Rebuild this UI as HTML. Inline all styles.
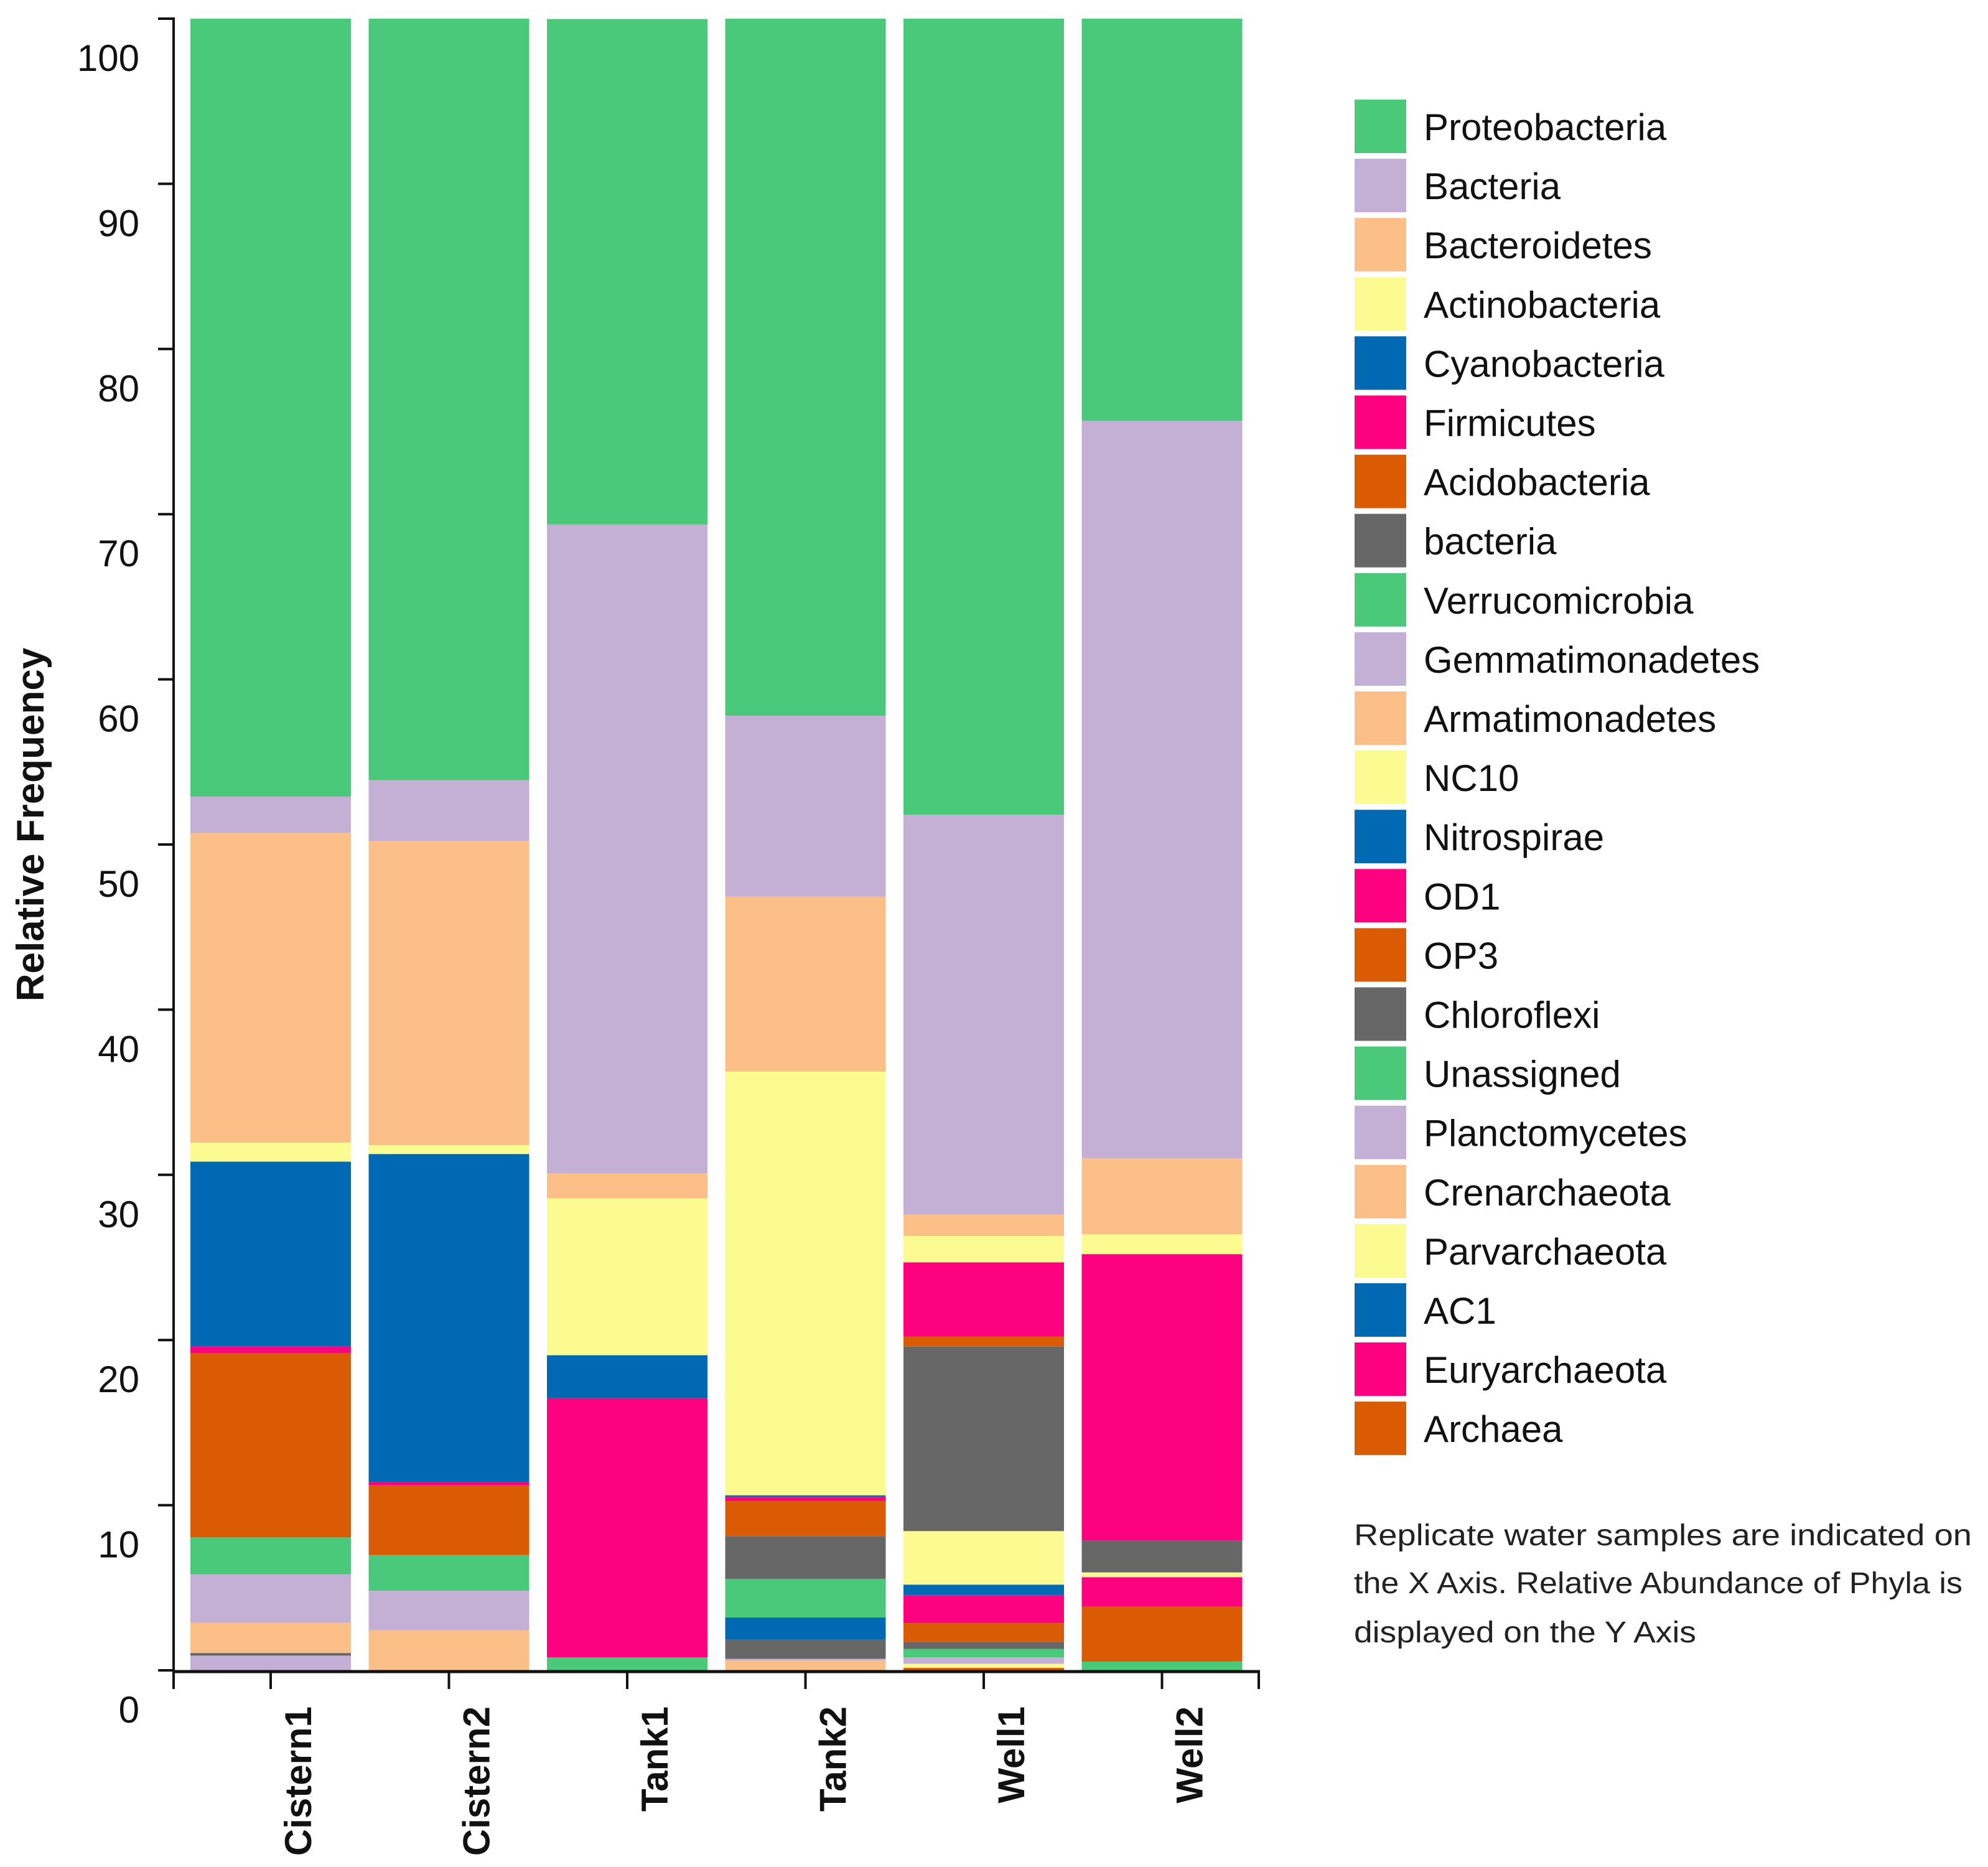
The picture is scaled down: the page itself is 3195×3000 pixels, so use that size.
<!DOCTYPE html>
<html>
<head>
<meta charset="utf-8">
<style>
  html,body{margin:0;padding:0;background:#fff;}
  svg{display:block;}
  text{font-family:"Liberation Sans",Arial,sans-serif;}
</style>
</head>
<body>
<svg id="chart" width="3195" height="3000" viewBox="0 0 3195 3000" xmlns="http://www.w3.org/2000/svg">
  <g id="bars"></g>
  <g id="axes"></g>
  <g id="legend"></g>
  <text transform="translate(70,1325) rotate(-90)" text-anchor="middle" font-size="62" font-weight="bold" fill="#111">Relative Frequency</text>
  <g fill="#222" font-size="48">
    <text x="2176" y="2483" textLength="993" lengthAdjust="spacingAndGlyphs">Replicate water samples are indicated on</text>
    <text x="2176" y="2560" textLength="978" lengthAdjust="spacingAndGlyphs">the X Axis. Relative Abundance of Phyla is</text>
    <text x="2176" y="2639" textLength="550" lengthAdjust="spacingAndGlyphs">displayed on the Y Axis</text>
  </g>
</svg>
<script>
const samples = ["Cistern1","Cistern2","Tank1","Tank2","Well1","Well2"];
const seriesNames = ["Proteobacteria","Bacteria","Bacteroidetes","Actinobacteria","Cyanobacteria","Firmicutes","Acidobacteria","bacteria","Verrucomicrobia","Gemmatimonadetes","Armatimonadetes","NC10","Nitrospirae","OD1","OP3","Chloroflexi","Unassigned","Planctomycetes","Crenarchaeota","Parvarchaeota","AC1","Euryarchaeota","Archaea"];
const seriesColors = ["#4bc97b","#c4afd5","#fdbf88","#fbfb91","#0069b3","#fe0180","#da5b03","#676767","#4bc97b","#c4afd5","#fdbf88","#fbfb91","#0069b3","#fe0180","#da5b03","#676767","#4bc97b","#c4afd5","#fdbf88","#fbfb91","#0069b3","#fe0180","#da5b03"];
// values per series (legend order), one value per sample
const proteobacteria   = [47.1, 46.1, 30.6, 42.2, 48.2, 24.35];
const bacteriaUpper    = [2.2, 3.7, 39.3, 10.95, 24.2, 44.65];
const bacteroidetes    = [18.75, 18.4, 1.5, 10.6, 1.3, 4.6];
const actinobacteria   = [1.15, 0.54, 9.5, 25.65, 1.6, 1.2];
const cyanobacteria    = [11.2, 19.86, 2.6, 0.1, 0, 0];
const firmicutes       = [0.4, 0.2, 15.7, 0.25, 4.5, 17.35];
const acidobacteria    = [11.15, 4.22, 0, 2.12, 0.6, 0];
const bacteriaLower    = [0, 0, 0, 2.59, 11.17, 1.92];
const verrucomicrobia  = [2.24, 2.16, 0.78, 2.34, 0, 0];
const gemmatimonadetes = [2.94, 2.39, 0, 0, 0, 0];
const armatimonadetes  = [1.82, 2.43, 0, 0, 0, 0];
const nc10             = [0, 0, 0, 0, 3.24, 0.29];
const nitrospirae      = [0, 0, 0, 1.34, 0.64, 0];
const od1              = [0, 0, 0, 0, 1.69, 1.79];
const op3              = [0, 0, 0, 0, 1.14, 3.32];
const chloroflexi      = [0.16, 0, 0, 1.16, 0.42, 0];
const unassigned       = [0, 0, 0, 0, 0.52, 0.53];
const planctomycetes   = [0.89, 0, 0, 0.11, 0.38, 0];
const crenarchaeota    = [0, 0, 0, 0.59, 0, 0];
const parvarchaeota    = [0, 0, 0, 0, 0.25, 0];
const ac1              = [0, 0, 0, 0, 0, 0];
const euryarchaeota    = [0, 0, 0, 0, 0, 0];
const archaea          = [0, 0, 0, 0, 0.15, 0];
const seriesValues = [proteobacteria,bacteriaUpper,bacteroidetes,actinobacteria,cyanobacteria,firmicutes,acidobacteria,bacteriaLower,verrucomicrobia,gemmatimonadetes,armatimonadetes,nc10,nitrospirae,od1,op3,chloroflexi,unassigned,planctomycetes,crenarchaeota,parvarchaeota,ac1,euryarchaeota,archaea];
const yTicks = [0,10,20,30,40,50,60,70,80,90,100];

const NS = "http://www.w3.org/2000/svg";
const Y0 = 2684, Y100 = 30;
function yScale(v){ return Y0 - (v/100)*(Y0-Y100); }
const barLeft0 = 306, barPitch = 286.5, barW = 258;
function xLeft(i){ return barLeft0 + i*barPitch; }
function xCenter(i){ return xLeft(i) + barW/2; }
function mk(tag, attrs, parent){ const e=document.createElementNS(NS,tag); for(const k in attrs) e.setAttribute(k,attrs[k]); parent.appendChild(e); return e; }

const bars = document.getElementById('bars');
samples.forEach((s,i)=>{
  const g = mk('g',{},bars);
  
  
  let cum = 0;
  for(let k=seriesValues.length-1;k>=0;k--){
    const v = seriesValues[k][i];
    if(v<=0) continue;
    const yTop = yScale(cum+v), yBot = yScale(cum);
    const r = mk('rect',{x:xLeft(i), y:yTop, width:barW, height:yBot-yTop, fill:seriesColors[k]},g);
    
    
    cum += v;
  }
});

const axes = document.getElementById('axes');
const yAxis = mk('line',{x1:279,y1:yScale(100),x2:279,y2:Y0+2,stroke:'#111','stroke-width':4},axes);


yTicks.forEach(t=>{
  const y = yScale(t);
  const tl = mk('line',{x1:254,y1:y,x2:281,y2:y,stroke:'#111','stroke-width':4},axes);
  
  
  const lab = mk('text',{x:224,y:y+84,'text-anchor':'end','font-size':60,fill:'#111'},axes);
  lab.textContent = t;
  
  
});
const xAxis = mk('line',{x1:277,y1:Y0+2,x2:2025,y2:Y0+2,stroke:'#111','stroke-width':5},axes);


[279,2023].forEach(x=>{
  const e = mk('line',{x1:x,y1:Y0,x2:x,y2:Y0+30,stroke:'#111','stroke-width':4},axes);
  
  
});
samples.forEach((s,i)=>{
  const cx = xCenter(i);
  const t = mk('line',{x1:cx,y1:Y0,x2:cx,y2:Y0+30,stroke:'#111','stroke-width':4},axes);
  
  
  const lab = mk('text',{transform:'translate('+(cx+65)+',2742) rotate(-90)','text-anchor':'end','font-size':60,'font-weight':'bold',fill:'#111'},axes);
  lab.textContent = s;
  
  
});

const legend = document.getElementById('legend');
seriesNames.forEach((n,k)=>{
  const top = 160 + k*95.1;
  const g = mk('g',{},legend);
  
  
  const sw = mk('rect',{x:2177,y:top,width:83,height:86,fill:seriesColors[k]},g);
  
  
  const tx = mk('text',{x:2288,y:top+65,'font-size':60,fill:'#111'},g);
  tx.textContent = n;
  
  
});
</script>
</body>
</html>
